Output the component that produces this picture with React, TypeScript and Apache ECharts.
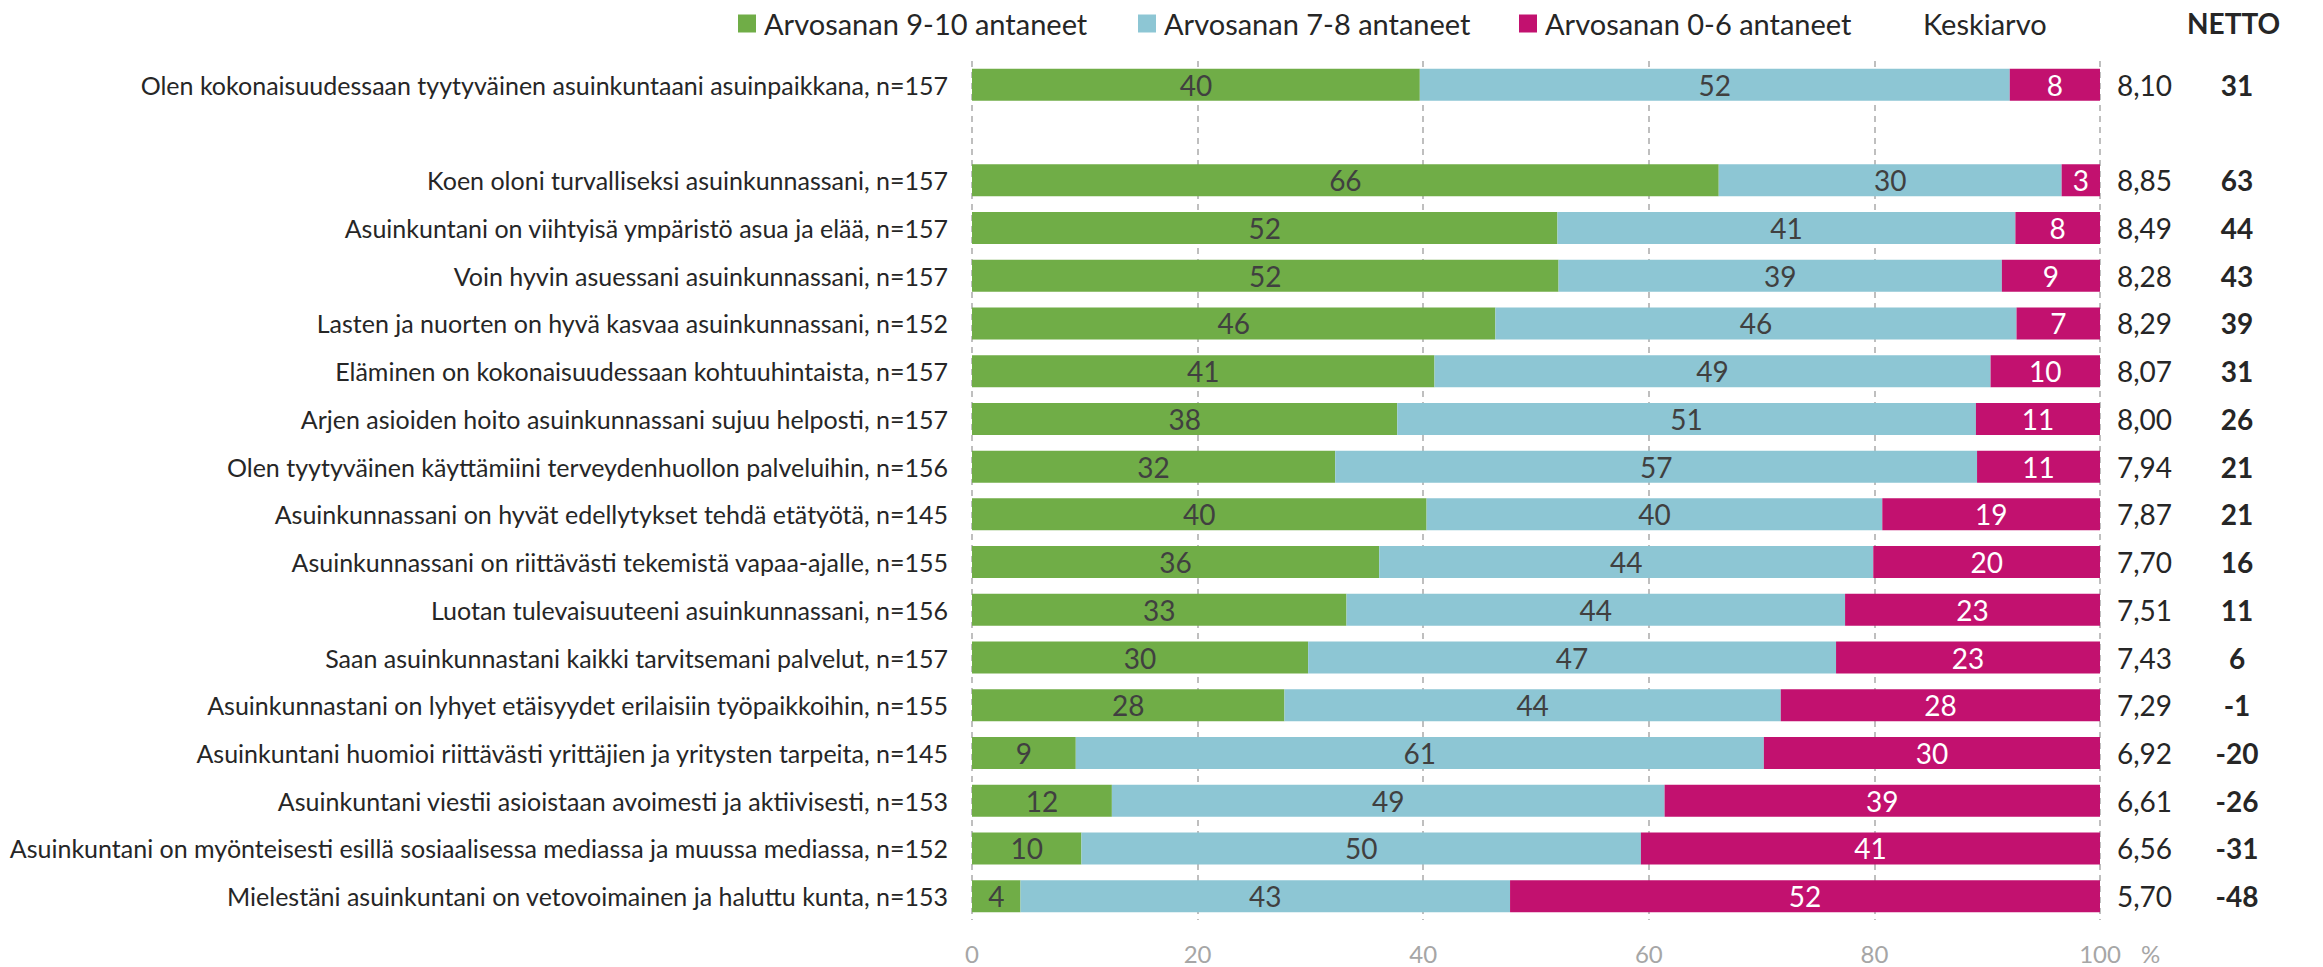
import React, { useEffect, useRef } from "react";
import * as echarts from "echarts";

const categories = [
  "Olen kokonaisuudessaan tyytyväinen asuinkuntaani asuinpaikkana, n=157",
  "",
  "Koen oloni turvalliseksi asuinkunnassani, n=157",
  "Asuinkuntani on viihtyisä ympäristö asua ja elää, n=157",
  "Voin hyvin asuessani asuinkunnassani, n=157",
  "Lasten ja nuorten on hyvä kasvaa asuinkunnassani, n=152",
  "Eläminen on kokonaisuudessaan kohtuuhintaista, n=157",
  "Arjen asioiden hoito asuinkunnassani sujuu helposti, n=157",
  "Olen tyytyväinen käyttämiini terveydenhuollon palveluihin, n=156",
  "Asuinkunnassani on hyvät edellytykset tehdä etätyötä, n=145",
  "Asuinkunnassani on riittävästi tekemistä vapaa-ajalle, n=155",
  "Luotan tulevaisuuteeni asuinkunnassani, n=156",
  "Saan asuinkunnastani kaikki tarvitsemani palvelut, n=157",
  "Asuinkunnastani on lyhyet etäisyydet erilaisiin työpaikkoihin, n=155",
  "Asuinkuntani huomioi riittävästi yrittäjien ja yritysten tarpeita, n=145",
  "Asuinkuntani viestii asioistaan avoimesti ja aktiivisesti, n=153",
  "Asuinkuntani on myönteisesti esillä sosiaalisessa mediassa ja muussa mediassa, n=152",
  "Mielestäni asuinkuntani on vetovoimainen ja haluttu kunta, n=153",
];

const seriesNames = [
  "Arvosanan 9-10 antaneet",
  "Arvosanan 7-8 antaneet",
  "Arvosanan 0-6 antaneet",
];

const share910 = [39.7, null, 66.2, 51.9, 52.0, 46.4, 41.0, 37.7, 32.2, 40.3, 36.1, 33.2, 29.8, 27.7, 9.2, 12.4, 9.7, 4.3];
const share78 = [52.3, null, 30.4, 40.6, 39.3, 46.2, 49.3, 51.3, 56.9, 40.4, 43.8, 44.2, 46.8, 44.0, 61.0, 49.0, 49.6, 43.4];
const share06 = [8.0, null, 3.4, 7.5, 8.7, 7.4, 9.7, 11.0, 10.9, 19.3, 20.1, 22.6, 23.4, 28.3, 29.8, 38.6, 40.7, 52.3];

const keskiarvo = [8.1, null, 8.85, 8.49, 8.28, 8.29, 8.07, 8.0, 7.94, 7.87, 7.7, 7.51, 7.43, 7.29, 6.92, 6.61, 6.56, 5.7];
const netto = [31, null, 63, 44, 43, 39, 31, 26, 21, 21, 16, 11, 6, -1, -20, -26, -31, -48];

const xTicks = { min: 0, max: 100, interval: 20 };

const colors = ["#70AD47", "#8DC6D4", "#C2116F"];
const FONT = "Lato, 'Open Sans', sans-serif";

export default function App() {
  const ref = useRef<HTMLDivElement>(null);

  useEffect(() => {
    if (!ref.current) return;
    const chart = echarts.init(ref.current, undefined, { renderer: "svg" });

    const shares = [share910, share78, share06];
    const labelColors = ["#404040", "#404040", "#FFFFFF"];

    const series = shares.map((arr, i) => ({
      name: seriesNames[i],
      type: "bar",
      stack: "total",
      barWidth: 32,
      itemStyle: { color: colors[i] },
      label: {
        show: true,
        position: "inside",
        color: labelColors[i],
        fontFamily: FONT,
        fontSize: 28,
        formatter: (p: any) => (p.value == null ? "" : String(Math.round(p.value))),
      },
      data: arr.map((v) => (v == null ? "-" : v)),
    }));

    const legendLefts = [738, 1138, 1519];

    const option: any = {
      animation: false,
      textStyle: { fontFamily: FONT },
      legend: seriesNames.map((n, i) => ({
        data: [n],
        left: legendLefts[i],
        top: 9,
        padding: 0,
        icon: "rect",
        itemWidth: 18,
        itemHeight: 18,
        selectedMode: false,
        textStyle: {
          fontFamily: FONT,
          fontSize: 29,
          color: "#262626",
          padding: [0, 0, 0, 3],
        },
      })),
      grid: { left: 972, right: 223, top: 61, bottom: 47, containLabel: false },
      xAxis: {
        type: "value",
        min: xTicks.min,
        max: xTicks.max,
        interval: xTicks.interval,
        axisLine: { show: false },
        axisTick: { show: false },
        axisLabel: { color: "#A6A6A6", fontFamily: FONT, fontSize: 24, margin: 21 },
        splitLine: {
          show: true,
          lineStyle: { color: "#ABABAB", width: 1.5, type: [6, 5] },
        },
      },
      yAxis: [
        {
          type: "category",
          data: categories,
          inverse: true,
          axisLine: { show: false },
          axisTick: { show: false },
          axisLabel: { color: "#262626", fontFamily: FONT, fontSize: 25, margin: 24 },
        },
        {
          type: "category",
          data: categories,
          inverse: true,
          position: "right",
          axisLine: { show: false },
          axisTick: { show: false },
          axisLabel: {
            margin: 17,
            align: "left",
            formatter: (_v: string, idx: number) => {
              const k = keskiarvo[idx];
              if (k == null) return "";
              return `{a|${k.toFixed(2).replace(".", ",")}}{b|${netto[idx]}}`;
            },
            rich: {
              a: { fontFamily: FONT, fontSize: 28, color: "#262626", width: 90, align: "left" },
              b: { fontFamily: FONT, fontSize: 28, color: "#262626", fontWeight: "bold", width: 60, align: "center" },
            },
          },
        },
      ],
      graphic: [
        {
          type: "text",
          left: 1923,
          top: 9,
          style: { text: "Keskiarvo", fontFamily: FONT, fontSize: 29, fill: "#262626" },
        },
        {
          type: "text",
          left: 2187,
          top: 9,
          style: { text: "NETTO", fontFamily: FONT, fontSize: 28, fontWeight: "bold", fill: "#262626" },
        },
        {
          type: "text",
          left: 2141,
          top: 941,
          style: { text: "%", fontFamily: FONT, fontSize: 24, fill: "#A6A6A6" },
        },
      ],
      series,
    };

    chart.setOption(option);
    return () => chart.dispose();
  }, []);

  return (
    <div
      ref={ref}
      style={{ position: "absolute", left: 0, top: 0, width: 2323, height: 967, background: "#fff" }}
    />
  );
}
